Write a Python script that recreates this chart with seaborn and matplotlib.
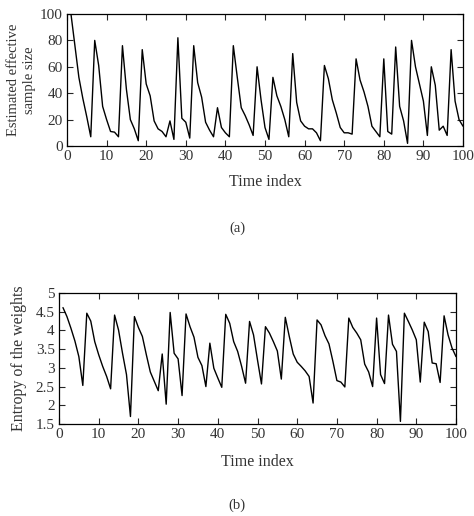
import matplotlib
matplotlib.use("Agg")
import matplotlib.pyplot as plt
import seaborn as sns
import pandas as pd
import numpy as np

# data
time_index = list(range(1, 101))
ess = [100, 76, 52, 36, 22, 7, 80, 61, 30, 20,
       11, 10.5, 7, 76, 43, 20, 13, 4, 73, 47,
       38, 19, 13, 11, 7, 19, 5, 82, 21, 18,
       6, 76, 48, 37, 18, 12, 7, 29, 14, 10,
       7, 76, 52, 29, 23, 16, 8, 60, 35, 14,
       5, 52, 38, 30, 20, 7, 70, 33, 19, 15,
       13, 13, 10, 4, 61, 51, 35, 25, 14, 10,
       10, 9, 66, 50, 41, 30, 15, 11, 7, 66,
       11, 9, 75, 30, 19, 2, 80, 60, 47, 34,
       8, 60, 46, 12, 15, 8, 73, 34, 20, 15]
entropy = [4.61, 4.37, 4.06, 3.72, 3.30, 2.53, 4.46, 4.25, 3.70, 3.35,
           3.04, 2.77, 2.44, 4.41, 4.01, 3.39, 2.82, 1.70, 4.37, 4.08,
           3.84, 3.35, 2.89, 2.64, 2.39, 3.37, 2.03, 4.48, 3.39, 3.24,
           2.26, 4.44, 4.10, 3.82, 3.28, 3.06, 2.50, 3.66, 2.99, 2.73,
           2.48, 4.43, 4.19, 3.70, 3.44, 3.04, 2.59, 4.24, 3.88, 3.21,
           2.57, 4.10, 3.93, 3.70, 3.45, 2.70, 4.35, 3.84, 3.37, 3.15,
           3.04, 2.92, 2.77, 2.06, 4.28, 4.15, 3.86, 3.64, 3.17, 2.66,
           2.62, 2.49, 4.33, 4.08, 3.93, 3.75, 3.10, 2.89, 2.50, 4.33,
           2.82, 2.58, 4.41, 3.63, 3.44, 1.57, 4.46, 4.24, 4.01, 3.75,
           2.62, 4.22, 3.97, 3.13, 3.11, 2.61, 4.39, 3.88, 3.53, 3.30]

df = pd.DataFrame({'t': time_index, 'ess': ess, 'entropy': entropy})

sns.set_style("ticks")
plt.rcParams['font.family'] = ['Liberation Serif', 'DejaVu Serif']
plt.rcParams['font.size'] = 10
txt = '#333333'

fig = plt.figure(figsize=(4.74, 5.16), dpi=100)
ax1 = fig.add_axes([67/474, 1-146/516, (463-67)/474, (146-14)/516])
ax2 = fig.add_axes([59/474, 1-424/516, (456-59)/474, (424-293)/516])

sns.lineplot(data=df, x='t', y='ess', ax=ax1, color='black', linewidth=1.0)
sns.lineplot(data=df, x='t', y='entropy', ax=ax2, color='black', linewidth=1.0)

ax1.set_xlim(0, 100)
ax1.set_ylim(0, 100)
ax1.set_xticks(range(0, 101, 10))
ax1.set_yticks(range(0, 101, 20))
ax2.set_xlim(0, 100)
ax2.set_ylim(1.5, 5)
ax2.set_xticks(range(0, 101, 10))
ax2.set_yticks(np.arange(1.5, 5.01, 0.5))
ax2.set_yticklabels(['1.5', '2', '2.5', '3', '3.5', '4', '4.5', '5'])

ax1.set_xlabel('Time index', color=txt, fontsize=11.5, labelpad=8)
ax1.set_ylabel('Estimated effective\nsample size', color=txt, fontsize=10.5, linespacing=1.3, labelpad=3)
ax2.set_xlabel('Time index', color=txt, fontsize=11.5, labelpad=9)
ax2.set_ylabel('Entropy of the weights', color=txt, fontsize=11.5, labelpad=6)

for ax in (ax1, ax2):
    ax.tick_params(direction='in', top=True, right=True, length=4, width=0.8,
                   labelsize=11, labelcolor=txt, pad=3)
    for s in ax.spines.values():
        s.set_visible(True)
        s.set_linewidth(0.9)
        s.set_color('black')

fig.text(237/474, 1-228/516, '(a)', ha='center', va='center', color=txt, fontsize=10.5)
fig.text(237/474, 1-505/516, '(b)', ha='center', va='center', color=txt, fontsize=10.5)

fig.savefig('out.png', dpi=100)
